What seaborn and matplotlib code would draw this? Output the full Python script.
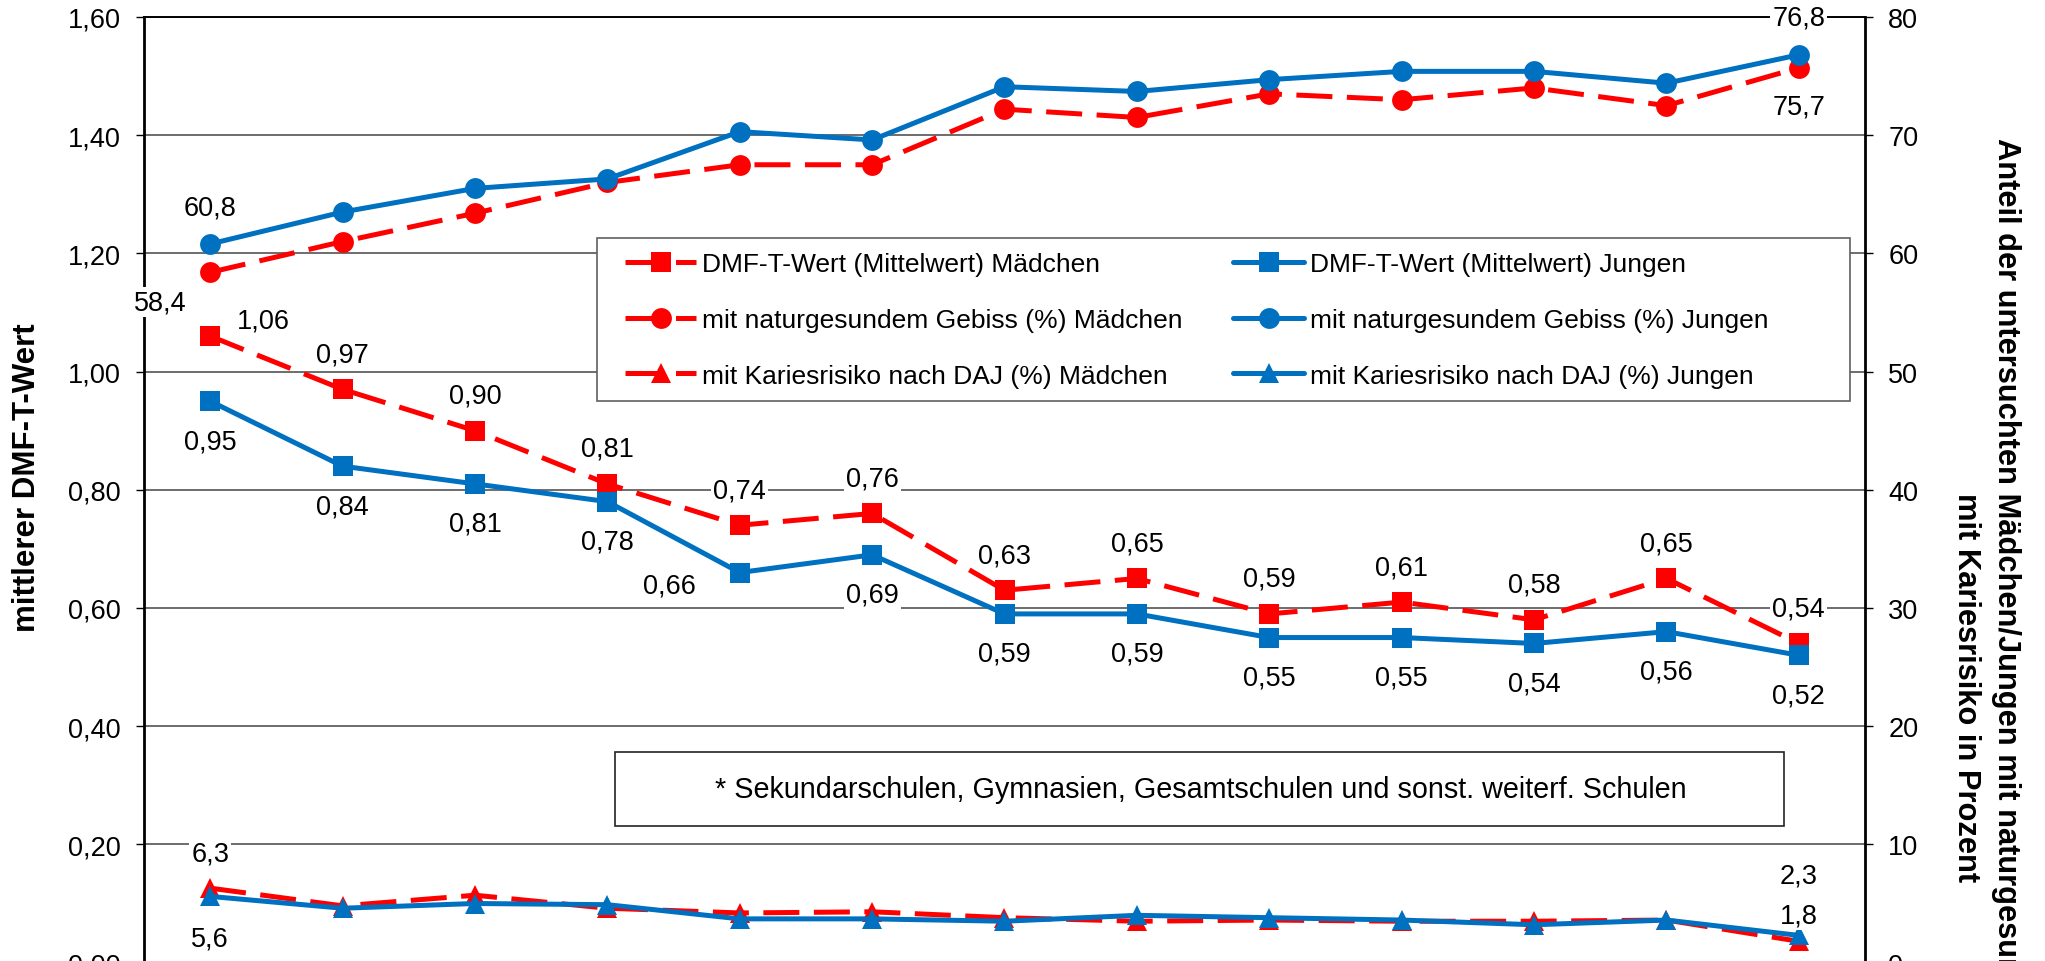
import matplotlib
matplotlib.use("Agg")
import matplotlib.pyplot as plt
import seaborn as sns
import pandas as pd
from matplotlib.patches import Rectangle

# ---------------- data ----------------
positions = list(range(13))
dmft_maedchen = [1.06, 0.97, 0.90, 0.81, 0.74, 0.76, 0.63, 0.65, 0.59, 0.61, 0.58, 0.65, 0.54]
dmft_jungen = [0.95, 0.84, 0.81, 0.78, 0.66, 0.69, 0.59, 0.59, 0.55, 0.55, 0.54, 0.56, 0.52]
gesund_maedchen = [58.4, 61.0, 63.4, 66.0, 67.5, 67.5, 72.2, 71.5, 73.5, 73.0, 74.0, 72.5, 75.7]
gesund_jungen = [60.8, 63.5, 65.5, 66.3, 70.3, 69.6, 74.1, 73.7, 74.7, 75.4, 75.4, 74.4, 76.8]
karies_maedchen = [6.3, 4.8, 5.7, 4.6, 4.2, 4.3, 3.8, 3.5, 3.6, 3.5, 3.5, 3.6, 1.8]
karies_jungen = [5.6, 4.6, 5.0, 4.9, 3.7, 3.7, 3.5, 4.0, 3.8, 3.6, 3.2, 3.6, 2.3]

left_ticks = [0.0, 0.2, 0.4, 0.6, 0.8, 1.0, 1.2, 1.4, 1.6]
right_ticks = [0, 10, 20, 30, 40, 50, 60, 70, 80]

legend_left = ["DMF-T-Wert (Mittelwert) Mädchen",
               "mit naturgesundem Gebiss (%) Mädchen",
               "mit Kariesrisiko nach DAJ (%) Mädchen"]
legend_right = ["DMF-T-Wert (Mittelwert) Jungen",
                "mit naturgesundem Gebiss (%) Jungen",
                "mit Kariesrisiko nach DAJ (%) Jungen"]
footnote = "* Sekundarschulen, Gymnasien, Gesamtschulen und sonst. weiterf. Schulen"
ylabel_left = "mittlerer DMF-T-Wert"
ylabel_right_1 = "Anteil der untersuchten Mädchen/Jungen mit naturgesundem Gebiss bzw."
ylabel_right_2 = "mit Kariesrisiko in Prozent"

# ---------------- style ----------------
RED = "#FF0000"
BLUE = "#0070C0"
W, H = 2045, 962

sns.set_style("white")
plt.rcParams["font.family"] = ["Liberation Sans", "DejaVu Sans"]
plt.rcParams["text.color"] = "black"
plt.rcParams["axes.labelcolor"] = "black"
plt.rcParams["xtick.color"] = "black"
plt.rcParams["ytick.color"] = "black"

fig = plt.figure(figsize=(W / 100, H / 100), dpi=100)
ax = fig.add_axes([144 / W, -1.6 / H, (1865 - 144) / W, (962 - 18 + 1.6) / H])
ax2 = ax.twinx()

LW = 3.6
DASH = [7.2, 2.9]


def draw(axis, yvals, color, marker, dashed, ms):
    sns.lineplot(x=positions, y=yvals, ax=axis, color=color, marker=marker,
                 markersize=ms, linewidth=LW, markeredgewidth=0,
                 markeredgecolor=color, legend=False)
    line = axis.lines[-1]
    if dashed:
        line.set_dashes(DASH)
    return line


l_dm = draw(ax, dmft_maedchen, RED, "s", True, 14.5)
l_dj = draw(ax, dmft_jungen, BLUE, "s", False, 14.5)
l_gm = draw(ax2, gesund_maedchen, RED, "o", True, 15)
l_gj = draw(ax2, gesund_jungen, BLUE, "o", False, 15)
l_km = draw(ax2, karies_maedchen, RED, "^", True, 15)
l_kj = draw(ax2, karies_jungen, BLUE, "^", False, 15)

# axes
ax.set_xlim(-0.5, 12.5)
ax.set_ylim(0, 1.6)
ax2.set_ylim(0, 80)
ax.set_xticks([])
ax2.set_xticks([])
ax.set_xlabel("")
ax.set_ylabel("")
ax2.set_ylabel("")
ax.set_yticks(left_ticks)
ax.set_yticklabels([f"{t:.2f}".replace(".", ",") for t in left_ticks])
ax2.set_yticks(right_ticks)
ax2.set_yticklabels([str(t) for t in right_ticks])
ax.tick_params(axis="y", direction="out", length=5.8, width=1.0, pad=11,
               labelsize=19.5, color="black", labelcolor="black", left=True)
ax2.tick_params(axis="y", direction="out", length=5.8, width=1.0, pad=11,
                labelsize=19.5, color="black", labelcolor="black", right=True)
ax.yaxis.grid(True, color="#454545", linewidth=1.1)
ax.xaxis.grid(False)
ax.set_axisbelow(True)

for a in (ax, ax2):
    a.spines["bottom"].set_visible(False)
ax.spines["left"].set_linewidth(2.0)
ax.spines["left"].set_color("black")
ax.spines["top"].set_linewidth(1.4)
ax.spines["top"].set_color("black")
ax.spines["right"].set_visible(False)
ax2.spines["left"].set_visible(False)
ax2.spines["top"].set_visible(False)
ax2.spines["right"].set_linewidth(2.0)
ax2.spines["right"].set_color("black")

# ---------------- data labels ----------------
bbox = dict(facecolor="white", edgecolor="none", pad=1.5)


def label(axis, i, v, fmt, off):
    axis.annotate(fmt(v), xy=(positions[i], v), xytext=off,
                  textcoords="offset pixels", ha="center", va="center",
                  fontsize=19.5, color="black", bbox=bbox, zorder=4)


f2 = lambda v: f"{v:.2f}".replace(".", ",")
f1 = lambda v: f"{v:.1f}".replace(".", ",")

for i, v in enumerate(dmft_maedchen):
    label(ax, i, v, f2, (53, 16) if i == 0 else (0, 35))
for i, v in enumerate(dmft_jungen):
    label(ax, i, v, f2, (-70, -13) if i == 4 else (0, -40))

label(ax2, 0, gesund_jungen[0], f1, (0, 36))
label(ax2, 0, gesund_maedchen[0], f1, (-50, -30))
label(ax2, 12, gesund_jungen[12], f1, (0, 37))
label(ax2, 12, gesund_maedchen[12], f1, (0, -39))
label(ax2, 0, karies_maedchen[0], f1, (0, 35))
label(ax2, 0, karies_jungen[0], f1, (0, -42))
label(ax2, 12, karies_jungen[12], f1, (0, 60))
label(ax2, 12, karies_maedchen[12], f1, (0, 26))

# ---------------- legend ----------------
frame = Rectangle((597 / W, 1 - 402 / H), (1850 - 597) / W, (402 - 239) / H,
                  transform=fig.transFigure, facecolor="white",
                  edgecolor="#606060", linewidth=1.2, zorder=5)
fig.add_artist(frame)

leg_kw = dict(loc="center left", frameon=False, fontsize=19, handlelength=2.7,
              handletextpad=0.2, labelspacing=1.2, borderpad=0, borderaxespad=0,
              numpoints=1, bbox_transform=fig.transFigure, labelcolor="black")
leg1 = fig.legend(handles=[l_dm, l_gm, l_km], labels=legend_left,
                  bbox_to_anchor=(625 / W, 1 - 321 / H), **leg_kw)
leg2 = fig.legend(handles=[l_dj, l_gj, l_kj], labels=legend_right,
                  bbox_to_anchor=(1233 / W, 1 - 321 / H), **leg_kw)
leg1.set_zorder(6)
leg2.set_zorder(6)

# ---------------- footnote ----------------
note_box = Rectangle((615 / W, 1 - 827 / H), (1784 - 615) / W, (827 - 753) / H,
                     transform=fig.transFigure, facecolor="white",
                     edgecolor="#222222", linewidth=1.2, zorder=5)
fig.add_artist(note_box)
fig.text(715 / W, 1 - 790 / H, footnote, ha="left", va="center",
         fontsize=20.7, color="black", zorder=7)

# ---------------- axis titles ----------------
fig.text(27 / W, 1 - 478 / H, ylabel_left, rotation=90, ha="center",
         va="center", fontsize=22.5, fontweight="bold", color="black")
fig.text(2006 / W, 1 - 138 / H, ylabel_right_1, rotation=-90, ha="center",
         va="top", fontsize=22.2, fontweight="bold", color="black")
fig.text(1966 / W, 1 - 493 / H, ylabel_right_2, rotation=-90, ha="center",
         va="top", fontsize=22.2, fontweight="bold", color="black")

fig.savefig("out.png", dpi=100)
